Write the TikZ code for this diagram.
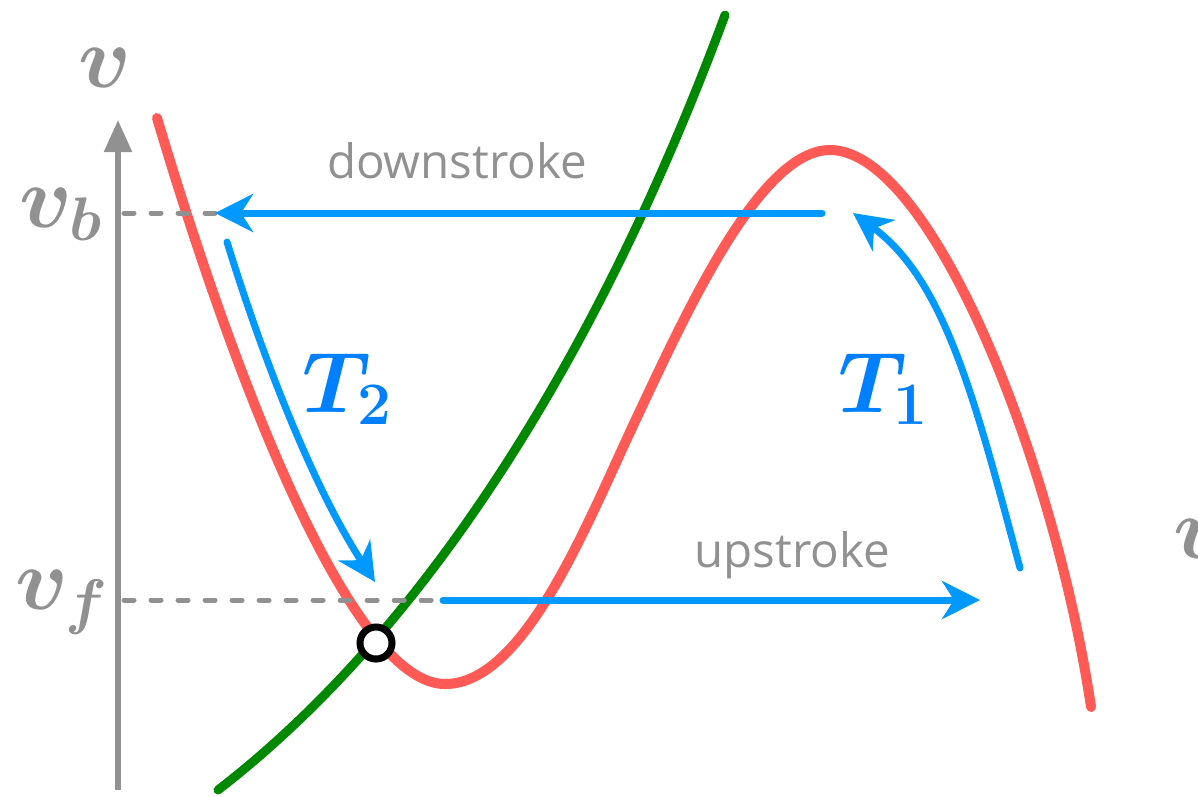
\RequirePackage{fix-cm}
\documentclass[tikz,border=0pt]{standalone}
\usepackage{amsmath}
\usepackage{bm}
\usepackage{fontspec}
\newfontfamily\labelfont{Open Sans}
\usepackage{xcolor}
\usepackage{tikz}
\usetikzlibrary{arrows.meta}

\definecolor{axisgray}{RGB}{145,145,145}
\definecolor{arrowblue}{RGB}{0,153,255}
\definecolor{labelblue}{RGB}{0,128,255}
\definecolor{fastred}{RGB}{255,90,85}
\definecolor{slowgreen}{RGB}{0,136,0}

\begin{document}
\begin{tikzpicture}[x=0.01cm,y=-0.01cm,
  axisline/.style={draw=axisgray,line width=0.055cm},
  guide/.style={axisgray,line width=0.05cm,dash pattern=on 0.1cm off 0.17cm,line cap=round},
  redcurve/.style={fastred,line width=0.1cm,line cap=round},
  greencurve/.style={slowgreen,line width=0.09cm,line cap=round},
  jump/.style={arrowblue,line width=0.07cm,line cap=round,-{Stealth[length=0.38cm,width=0.38cm,inset=0.12cm]}},
  axislabel/.style={axisgray,inner sep=0pt,font=\fontsize{25}{30}\selectfont},
  phaselabel/.style={labelblue,inner sep=0pt,font=\fontsize{24.5}{29}\selectfont},
  strokelabel/.style={axisgray,inner sep=0pt,font=\labelfont\fontsize{13.5}{16}\selectfont}]
\useasboundingbox (0,0) rectangle (1198,796);

\coordinate (vbot) at (118,790);
\coordinate (vtop) at (118,120);
\coordinate (bleft) at (124,213);
\coordinate (fleft) at (124,600);
\coordinate (bstart) at (822,213);
\coordinate (btip) at (215,213);
\coordinate (fstart) at (443,600);
\coordinate (ftip) at (980,600);
\coordinate (t2start) at (227,242);
\coordinate (t2tip) at (375,582);
\coordinate (t1start) at (1020,568);
\coordinate (t1tip) at (853,213);

\draw[axisline,-{Triangle[length=0.32cm,width=0.27cm]}] (vbot) -- (vtop);
\node[axislabel] (vname) at (105,68) {$\bm{v}$};
\node[axislabel,anchor=base east] (vb) at (104,227) {$\bm{v_b}$};
\node[axislabel,anchor=base east] (vf) at (110,609) {$\bm{v_f}$};
\node[axislabel,anchor=base west] (wname) at (1173,558) {$\bm{w}$};

\draw[redcurve] (157,118) .. controls (250,430) and (360,684) .. (445,684)
  .. controls (525,684) and (587,523) .. (637,417)
  .. controls (687,311) and (760,150) .. (830,150)
  .. controls (930,150) and (1053.5,457) .. (1091,707);
\draw[greencurve] (218,790) .. controls (428,628) and (601,350) .. (725,15);

\draw[guide] (bleft) -- (btip);
\draw[guide] (fleft) -- (fstart);

\draw[jump] (bstart) -- (btip);
\draw[jump] (fstart) -- (ftip);
\draw[jump] (t2start) .. controls (265,365) and (315,490) .. (t2tip);
\draw[jump] (t1start) .. controls (975,400) and (945,280) .. (t1tip);

\node[strokelabel,anchor=base] (down) at (457,178) {downstroke};
\node[strokelabel,anchor=base] (up) at (792,567) {upstroke};
\node[phaselabel,anchor=base west] (T2) at (302,412) {$\bm{T_2}$};
\node[phaselabel,anchor=base west] (T1) at (838,412) {$\bm{T_1}$};

\node[circle,draw=black,fill=white,line width=0.07cm,minimum size=0.32cm,inner sep=0pt] (fp) at (376,643) {};
\end{tikzpicture}
\end{document}
